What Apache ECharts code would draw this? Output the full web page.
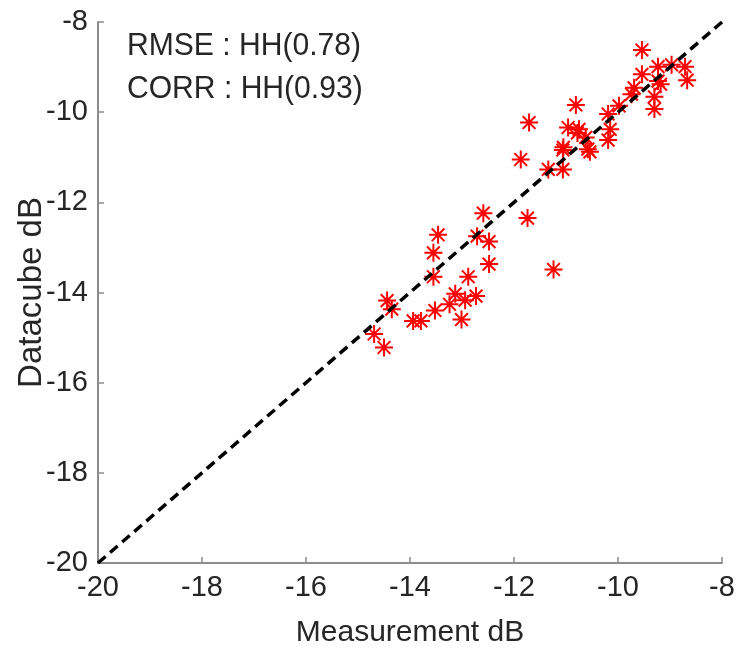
<!DOCTYPE html>
<html>
<head>
<meta charset="utf-8">
<script src="https://cdn.jsdelivr.net/npm/echarts@6/dist/echarts.min.js"></script>
<style>
html,body{margin:0;padding:0;background:#fff;}
#chart{width:741px;height:655px;}
</style>
</head>
<body>
<div id="chart"></div>
<script>
// Measurement (x) and Datacube (y), dB
const measurement = [-9.54,-9.23,-8.97,-8.71,-8.67,-9.54,-9.23,-9.18,-9.69,-9.74,-9.30,-9.30,-9.98,-10.19,-10.81,-11.71,-10.96,-10.75,-10.78,-10.15,-10.19,-10.62,-11.05,-11.06,-10.58,-10.54,-11.87,-11.34,-11.06,-12.59,-11.74,-13.46,-12.71,-12.48,-13.55,-12.48,-11.24,-13.55,-12.88,-14.44,-14.35,-13.13,-12.94,-12.73,-13.24,-13.52,-13.94,-13.79,-13.01,-14.69,-14.50];
const datacube    = [-8.62,-8.99,-8.95,-8.99,-9.29,-9.16,-9.31,-9.38,-9.46,-9.60,-9.66,-9.93,-9.86,-10.04,-9.84,-10.23,-10.34,-10.38,-10.46,-10.38,-10.62,-10.56,-10.78,-10.84,-10.82,-10.88,-11.05,-11.27,-11.27,-12.24,-12.35,-12.72,-12.75,-12.87,-13.12,-13.37,-13.49,-13.65,-13.65,-14.18,-14.37,-14.03,-14.17,-14.08,-14.26,-14.40,-14.63,-14.63,-14.60,-14.92,-15.22];
const refLineX = [-20, -8];
const refLineY = [-20, -8];
const axisTicks = [-20, -18, -16, -14, -12, -10, -8];
const annotations = ['RMSE : HH(0.78)', 'CORR : HH(0.93)'];

const fam = "'Liberation Sans',Arial,sans-serif";
const axisColor = '#8c8c8c';
const textColor = '#262626';

const chart = echarts.init(document.getElementById('chart'), null, {renderer: 'canvas'});
const star = 'path://M0,-10L0,10M-10,0L10,0M-7.07,-7.07L7.07,7.07M-7.07,7.07L7.07,-7.07';

function axisCommon(name, gap, rotate, nameSize, margin) {
  return {
    type: 'value',
    min: axisTicks[0], max: axisTicks[axisTicks.length - 1], interval: 2,
    name: name, nameLocation: 'middle', nameGap: gap, nameRotate: rotate,
    nameMoveOverlap: false,
    nameTextStyle: {color: textColor, fontSize: nameSize, fontFamily: fam},
    axisLine: {show: true, onZero: false, lineStyle: {color: axisColor, width: 2}},
    axisTick: {show: true, inside: true, length: 6, lineStyle: {color: axisColor, width: 1.5}},
    axisLabel: {color: textColor, fontSize: 29, fontFamily: fam, margin: margin,
                showMinLabel: true, showMaxLabel: true},
    splitLine: {show: false}
  };
}

chart.setOption({
  animation: false,
  backgroundColor: '#ffffff',
  grid: {left: 98, right: 19, top: 22, bottom: 92, containLabel: false, outerBoundsMode: 'none'},
  xAxis: axisCommon('Measurement dB', 55, 0, 30, 10),
  yAxis: axisCommon('Datacube dB', 50, 90, 33, 10),
  graphic: annotations.map((t, i) => ({
    type: 'text', left: 127, top: 30 + i * 43, scaleX: 0.94,
    style: {text: t, fill: textColor, fontSize: 32, fontFamily: fam}
  })),
  series: [
    {
      type: 'line',
      data: refLineX.map((x, i) => [x, refLineY[i]]),
      symbol: 'none',
      lineStyle: {color: '#000', width: 3.5, type: [10, 6]},
      z: 3
    },
    {
      type: 'scatter',
      data: measurement.map((x, i) => [x, datacube[i]]),
      symbol: star,
      symbolSize: 18,
      itemStyle: {color: 'rgba(0,0,0,0)', borderColor: '#ff0000', borderWidth: 2, opacity: 1},
      z: 2
    }
  ]
});
</script>
</body>
</html>
